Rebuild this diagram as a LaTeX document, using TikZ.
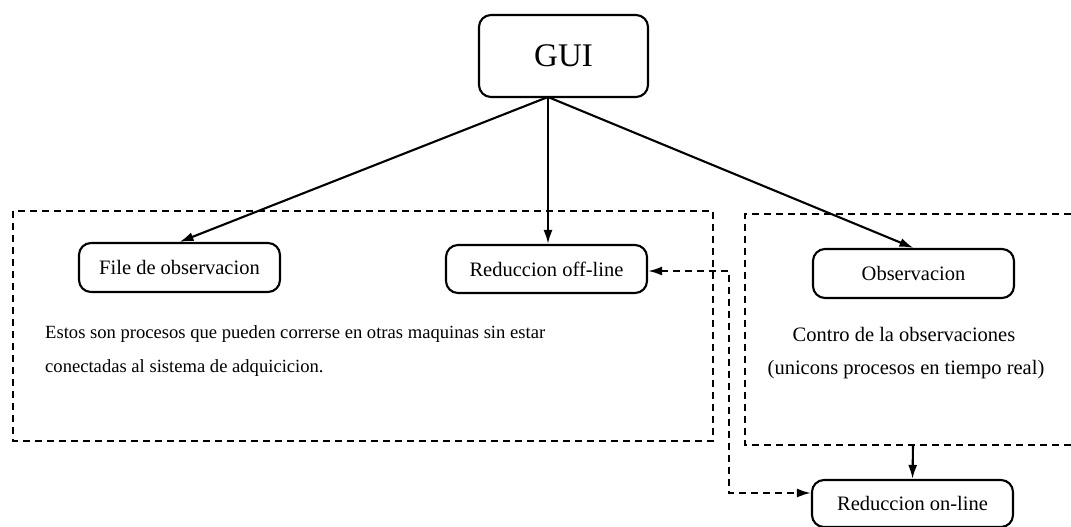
\documentclass[tikz,border=0pt]{standalone}
\usepackage{fontspec}
\setmainfont{Liberation Serif}
\usetikzlibrary{arrows.meta}
\begin{document}
\begin{tikzpicture}[x=1pt,y=-1pt,
  box/.style={draw,line width=2.1pt,rounded corners=12pt,minimum width=201pt,minimum height=48pt,inner sep=0pt,font=\fontsize{20.5}{23}\selectfont},
  conn/.style={line width=2.1pt,-{Latex[length=14pt,width=9pt]}},
  dconn/.style={line width=2.1pt,dash pattern=on 7pt off 5pt,{Latex[length=14pt,width=9pt]}-{Latex[length=14pt,width=9pt]}},
  group/.style={line width=2.1pt,dash pattern=on 7pt off 5pt},
  txt/.style={inner sep=0pt,font=\fontsize{18.6}{22}\selectfont},
  rtxt/.style={inner sep=0pt,font=\fontsize{20.5}{23}\selectfont}]
\useasboundingbox (0,0) rectangle (1071,527);
% groups
\draw[group] (13,211) rectangle (713,441);
\draw[group] (1071,214) -- (745,214) -- (745,445) -- (1071,445);
% nodes
\node[box,minimum width=169pt,minimum height=82pt,font=\fontsize{33}{36}\selectfont] (gui) at (563.5,56) {GUI};
\node[box,minimum height=49pt] (file) at (179.5,267.5) {File de observacion};
\node[box] (offline) at (546.5,269) {Reduccion off-line};
\node[box,minimum height=49pt] (obs) at (913.5,273.5) {Observacion};
\node[box,minimum height=47pt] (online) at (912.5,503.5) {Reduccion on-line};
% texts
\node[txt,anchor=base west] (t1) at (45,338) {Estos son procesos que pueden correrse en otras maquinas sin estar};
\node[txt,anchor=base west] (t2) at (45,372) {conectadas al sistema de adquicicion.};
\node[rtxt,anchor=base] (t3) at (904,341) {Contro de la observaciones};
\node[rtxt,anchor=base] (t4) at (906,374) {(unicons procesos en tiempo real)};
% connectors
\coordinate (gs) at (548,97);
\draw[conn] (gs) -- (file.north);
\draw[conn] (gs) -- (gs |- offline.north);
\draw[conn] (gs) -- (obs.north);
\coordinate (rb) at (913,445);
\draw[conn] (rb) -- (online.north);
\coordinate (d1) at (729,271);
\coordinate (d2) at (729,493);
\draw[dconn] (offline.east |- d1) -- (d1) -- (d2) -- (online.west |- d2);
\end{tikzpicture}
\end{document}
